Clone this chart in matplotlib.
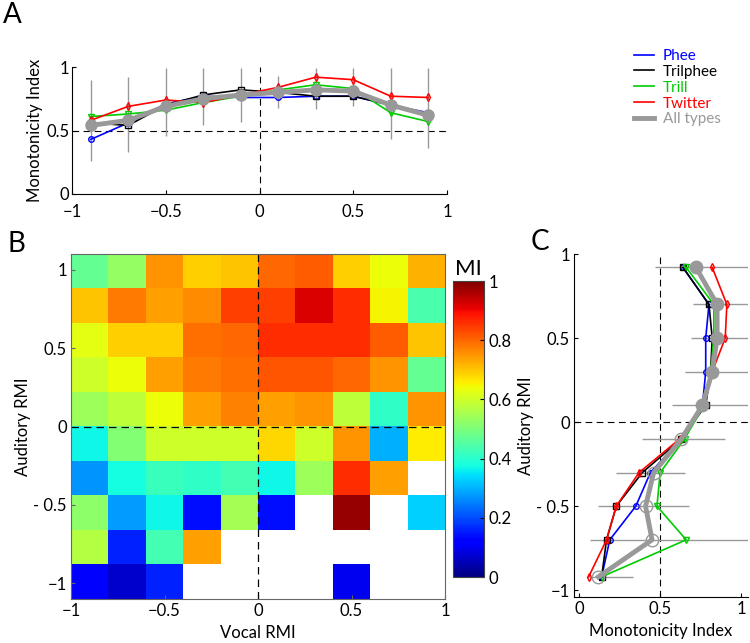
import numpy as np
import matplotlib
matplotlib.use("Agg")
import matplotlib.pyplot as plt
from matplotlib.lines import Line2D

plt.rcParams['font.family'] = ['Lato', 'DejaVu Sans']
plt.rcParams['font.size'] = 12

# ---------------- data ----------------
vocal_rmi = [-0.9, -0.7, -0.5, -0.3, -0.1, 0.1, 0.3, 0.5, 0.7, 0.9]
mi_phee = [0.43, 0.56, 0.71, 0.77, 0.76, 0.76, 0.77, 0.77, 0.70, 0.64]
mi_trilphee = [0.56, 0.54, 0.70, 0.78, 0.82, 0.80, 0.77, 0.77, 0.70, 0.61]
mi_trill = [0.61, 0.63, 0.66, 0.72, 0.77, 0.82, 0.86, 0.83, 0.64, 0.57]
mi_twitter = [0.58, 0.69, 0.74, 0.72, 0.78, 0.84, 0.92, 0.90, 0.77, 0.76]
mi_all = [0.54, 0.58, 0.69, 0.75, 0.78, 0.80, 0.82, 0.81, 0.70, 0.62]
err_lo_a = [0.26, 0.33, 0.46, 0.54, 0.57, 0.68, 0.67, 0.69, 0.43, 0.36]
err_hi_a = [0.90, 0.92, 0.99, 0.99, 0.99, 0.93, 0.99, 0.99, 0.99, 0.99]

series_names = ['Phee', 'Trilphee', 'Trill', 'Twitter', 'All types']

nan = np.nan
heat_mi = [
    [0.47, 0.53, 0.75, 0.69, 0.70, 0.80, 0.81, 0.69, 0.64, 0.72],
    [0.70, 0.78, 0.74, 0.76, 0.84, 0.84, 0.92, 0.86, 0.65, 0.44],
    [0.625, 0.69, 0.69, 0.79, 0.80, 0.86, 0.86, 0.86, 0.81, 0.70],
    [0.60, 0.64, 0.74, 0.78, 0.79, 0.82, 0.82, 0.80, 0.75, 0.47],
    [0.54, 0.58, 0.64, 0.74, 0.77, 0.74, 0.75, 0.58, 0.41, 0.75],
    [0.37, 0.51, 0.60, 0.60, 0.60, 0.68, 0.60, 0.75, 0.30, 0.66],
    [0.27, 0.375, 0.42, 0.41, 0.43, 0.37, 0.54, 0.86, 0.74, nan],
    [0.52, 0.28, 0.37, 0.14, 0.55, 0.14, nan, 0.98, nan, 0.33],
    [0.57, 0.16, 0.43, 0.74, nan, nan, nan, nan, nan, nan],
    [0.11, 0.07, 0.16, nan, nan, nan, nan, 0.10, nan, nan],
]

aud_rmi = [0.92, 0.7, 0.5, 0.3, 0.1, -0.1, -0.3, -0.5, -0.7, -0.92]
c_phee = [0.64, 0.80, 0.78, 0.78, 0.76, 0.63, 0.44, 0.35, 0.19, 0.14]
c_trilphee = [0.64, 0.80, 0.82, 0.81, 0.78, 0.63, 0.39, 0.23, 0.17, 0.14]
c_trill = [0.66, 0.83, 0.83, 0.81, 0.77, 0.65, 0.50, 0.48, 0.66, 0.14]
c_twitter = [0.82, 0.91, 0.90, 0.82, 0.77, 0.62, 0.37, 0.23, 0.17, 0.06]
c_all = [0.72, 0.85, 0.85, 0.82, 0.76, 0.63, 0.46, 0.41, 0.45, 0.12]
err_lo_c = [0.47, 0.70, 0.69, 0.65, 0.57, 0.39, 0.23, 0.12, 0.07, 0.06]
err_hi_c = [1.1, 1.1, 1.1, 1.1, 1.1, 0.90, 0.65, 0.68, 1.1, 0.33]

# ---------------- style ----------------
cols = ['#0000ff', '#000000', '#00cc00', '#ff0000', '#999999']
marks = ['o', 's', 'v', 'd', 'o']
gray_err = '#999999'

W, H = 750, 643
fig = plt.figure(figsize=(W / 100, H / 100), dpi=100)


def frac(l, t, r, b):
    return [l / W, 1 - b / H, (r - l) / W, (b - t) / H]


# ---------------- panel A ----------------
axA = fig.add_axes(frac(72, 67, 447, 194))
axA.vlines(vocal_rmi, err_lo_a, err_hi_a, color=gray_err, lw=1, zorder=1)
axA.axhline(0.5, color='k', ls=(0, (6, 4)), lw=0.8, zorder=0)
axA.axvline(0, color='k', ls=(0, (6, 4)), lw=0.8, zorder=0)
ys = [mi_phee, mi_trilphee, mi_trill, mi_twitter]
for y, c, m in zip(ys, cols[:4], marks[:4]):
    axA.plot(vocal_rmi, y, color=c, lw=1.2, marker=m, ms=4, mfc='none', mec=c, zorder=3)
axA.plot(vocal_rmi, mi_all, color=cols[4], lw=3.5, marker='o', ms=8, mfc=cols[4], mec=cols[4], zorder=4)
axA.set_xlim(-1, 1)
axA.set_ylim(0, 1)
axA.set_xticks([-1, -0.5, 0, 0.5, 1])
axA.set_xticklabels(['\u22121', '\u22120.5', '0', '0.5', '1'])
axA.set_yticks([0, 0.5, 1])
axA.set_yticklabels(['0', '0.5', '1'])
axA.spines['top'].set_visible(False)
axA.spines['right'].set_visible(False)
axA.tick_params(direction='in', length=3, pad=2)
axA.tick_params(axis='x', pad=7)
axA.set_ylabel('Monotonicity Index', labelpad=2)

# legend
handles = [Line2D([], [], color=c, lw=(3.5 if i == 4 else 1.2)) for i, c in enumerate(cols)]
fig.legend(handles, series_names, loc='upper left', bbox_to_anchor=(634 / W, 1 - 49 / H),
           frameon=False, handlelength=1.3, handletextpad=0.6, labelspacing=0.12,
           labelcolor='linecolor', fontsize=11, borderaxespad=0, borderpad=0)

# ---------------- panel B ----------------
axB = fig.add_axes(frac(71, 254, 445, 599))
data = np.ma.masked_invalid(np.array(heat_mi, dtype=float))
cmap = plt.get_cmap('jet').copy()
cmap.set_bad('white')
im = axB.imshow(data, cmap=cmap, vmin=0, vmax=1, extent=[-1, 1, -1.1, 1.1],
                aspect='auto', interpolation='nearest', origin='upper')
axB.axhline(0, color='k', ls=(0, (6, 4)), lw=0.9)
axB.axvline(0, color='k', ls=(0, (6, 4)), lw=0.9)
axB.set_xlim(-1, 1)
axB.set_ylim(-1.1, 1.1)
axB.set_xticks([-1, -0.5, 0, 0.5, 1])
axB.set_xticklabels(['\u22121', '\u22120.5', '0', '0.5', '1'])
axB.set_yticks([-1, -0.5, 0, 0.5, 1])
axB.set_yticklabels(['\u22121', '- 0.5', '0', '0.5', '1'])
axB.tick_params(direction='in', length=3, pad=3, top=False, right=False, color='#666666')
for s in axB.spines.values():
    s.set_color('#666666')
axB.set_xlabel('Vocal RMI', labelpad=4)
axB.set_ylabel('Auditory RMI', labelpad=2)

cax = fig.add_axes(frac(453, 281, 484, 577))
cb = fig.colorbar(im, cax=cax, ticks=[0, 0.2, 0.4, 0.6, 0.8, 1])
cb.ax.set_yticklabels(['0', '0.2', '0.4', '0.6', '0.8', '1'])
cb.ax.tick_params(direction='in', length=3, pad=3, labelsize=12)
cb.outline.set_edgecolor('#444444')
cax.set_title('MI', fontsize=16, pad=4)

# ---------------- panel C ----------------
axC = fig.add_axes(frac(574, 254, 748, 597))
axC.hlines(aud_rmi, err_lo_c, err_hi_c, color=gray_err, lw=1, zorder=1)
axC.axvline(0.5, color='k', ls=(0, (6, 4)), lw=0.8, zorder=0)
axC.axhline(0, color='k', ls=(0, (6, 4)), lw=0.8, zorder=0)
xs = [c_phee, c_trilphee, c_trill, c_twitter]
for x, c, m in zip(xs, cols[:4], marks[:4]):
    axC.plot(x, aud_rmi, color=c, lw=1.2, marker=m, ms=4, mfc='none', mec=c, zorder=3)
axC.plot(c_all, aud_rmi, color=cols[4], lw=3.5, zorder=4)
pos = [i for i, a in enumerate(aud_rmi) if a > 0]
neg = [i for i, a in enumerate(aud_rmi) if a < 0]
axC.plot([c_all[i] for i in pos], [aud_rmi[i] for i in pos], ls='none', marker='o', ms=9,
         mfc=cols[4], mec=cols[4], zorder=5)
axC.plot([c_all[i] for i in neg], [aud_rmi[i] for i in neg], ls='none', marker='o', ms=9,
         mfc='none', mec=cols[4], zorder=5)
axC.set_xlim(-0.03, 1.04)
axC.set_ylim(-1.04, 1)
axC.set_xticks([0, 0.5, 1])
axC.set_xticklabels(['0', '0.5', '1'])
axC.set_yticks([-1, -0.5, 0, 0.5, 1])
axC.set_yticklabels(['\u22121', '- 0.5', '0', '0.5', '1'])
axC.spines['top'].set_visible(False)
axC.spines['right'].set_visible(False)
axC.tick_params(direction='in', length=3, pad=3)
axC.set_xlabel('Monotonicity Index', labelpad=4)
axC.set_ylabel('Auditory RMI', labelpad=2)

# panel letters
fig.text(3 / W, 1 - 23 / H, 'A', fontsize=20)
fig.text(8 / W, 1 - 252 / H, 'B', fontsize=20)
fig.text(531 / W, 1 - 250 / H, 'C', fontsize=20)

fig.savefig('out.png', dpi=100)
